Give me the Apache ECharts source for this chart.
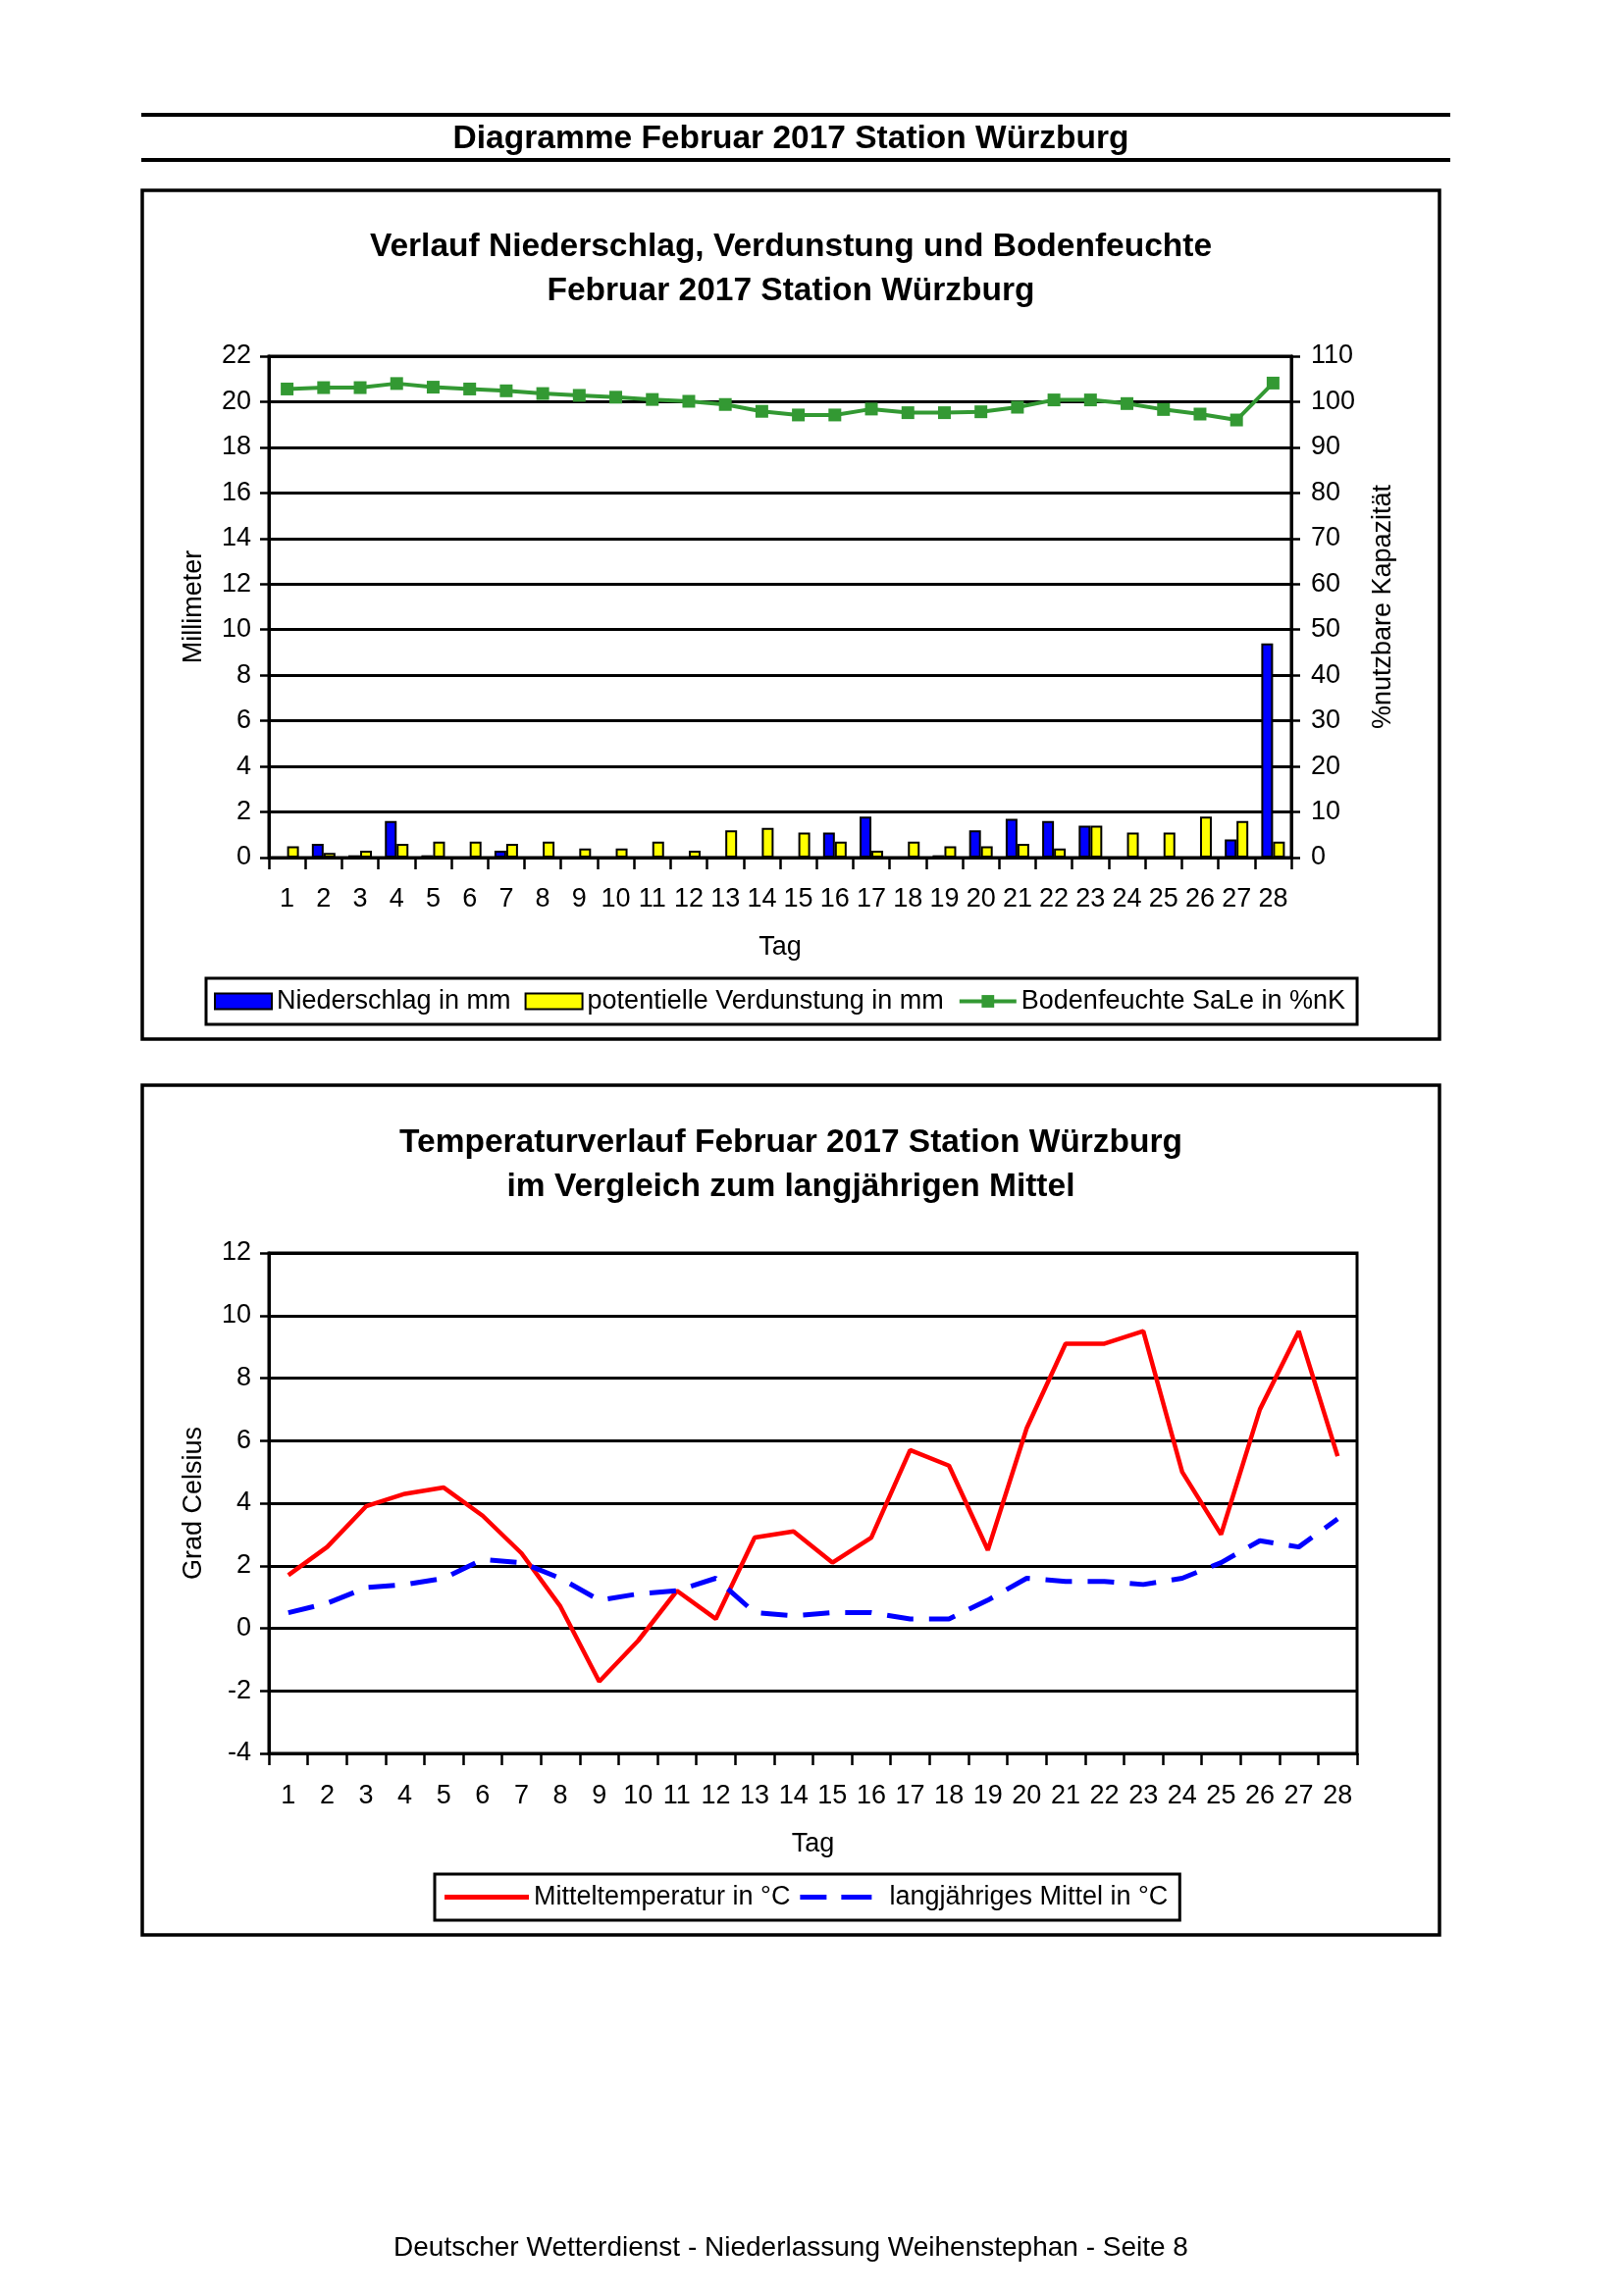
<!DOCTYPE html>
<html><head><meta charset="utf-8">
<script src="https://cdn.jsdelivr.net/npm/echarts@6/dist/echarts.min.js"></script>
<style>html,body{margin:0;padding:0;background:#fff}#c{width:1653px;height:2340px}</style>
</head><body><div id="c"></div>
<script>
var days = ['1','2','3','4','5','6','7','8','9','10','11','12','13','14','15','16','17','18','19','20','21','22','23','24','25','26','27','28'];
var niederschlag = [0, 0.6, 0.1, 1.6, 0.1, 0, 0.3, 0, 0, 0, 0, 0, 0, 0, 0, 1.1, 1.8, 0, 0.1, 1.2, 1.7, 1.6, 1.4, 0, 0, 0, 0.8, 9.4];
var verdunstung = [0.5, 0.2, 0.3, 0.6, 0.7, 0.7, 0.6, 0.7, 0.4, 0.4, 0.7, 0.3, 1.2, 1.3, 1.1, 0.7, 0.3, 0.7, 0.5, 0.5, 0.6, 0.4, 1.4, 1.1, 1.1, 1.8, 1.6, 0.7];
var bodenfeuchte = [102.8, 103.1, 103.1, 104.0, 103.2, 102.8, 102.4, 101.8, 101.4, 101.0, 100.5, 100.1, 99.4, 97.9, 97.1, 97.1, 98.4, 97.6, 97.6, 97.8, 98.8, 100.4, 100.4, 99.6, 98.3, 97.3, 96.0, 104.1];
var mitteltemp = [1.7, 2.6, 3.9, 4.3, 4.5, 3.6, 2.4, 0.7, -1.7, -0.4, 1.2, 0.3, 2.9, 3.1, 2.1, 2.9, 5.7, 5.2, 2.5, 6.4, 9.1, 9.1, 9.5, 5.0, 3.0, 7.0, 9.5, 5.5];
var langjaehrig = [0.5, 0.8, 1.3, 1.4, 1.6, 2.2, 2.1, 1.6, 0.9, 1.1, 1.2, 1.6, 0.5, 0.4, 0.5, 0.5, 0.3, 0.3, 0.9, 1.6, 1.5, 1.5, 1.4, 1.6, 2.1, 2.8, 2.6, 3.5];

var FF = "'Liberation Sans', Arial, sans-serif";
var chart = echarts.init(document.getElementById('c'), null, {renderer: 'canvas'});
function txt(t, x, y, size, bold) {
  return {type: 'text', x: x, y: y, style: {text: t, fill: '#000', font: (bold ? 'bold ' : '') + size + 'px ' + FF, textAlign: 'center', textVerticalAlign: 'middle'}};
}
var axisLbl = {color: '#000', fontSize: 27, fontFamily: FF};
var nameStyle = {color: '#000', fontSize: 27, fontFamily: FF};
var solidIcon = 'path://M0,0L86,0L86,5L0,5Z';
var dashIcon = 'path://M0,0L27,0L27,5L0,5ZM42,0L73,0L73,5L42,5ZM86,0L86,5L86,5Z';
var option = {
  animation: false,
  backgroundColor: '#fff',
  graphic: [
    {type: 'line', shape: {x1: 144, y1: 117, x2: 1478, y2: 117}, style: {stroke: '#000', lineWidth: 4}},
    {type: 'line', shape: {x1: 144, y1: 163, x2: 1478, y2: 163}, style: {stroke: '#000', lineWidth: 4}},
    {type: 'rect', shape: {x: 145, y: 194, width: 1322, height: 865}, style: {stroke: '#000', lineWidth: 3.5, fill: null}},
    {type: 'rect', shape: {x: 145, y: 1106, width: 1322, height: 866}, style: {stroke: '#000', lineWidth: 3.5, fill: null}},
    txt('Diagramme Februar 2017 Station Würzburg', 806, 142, 33.5, true),
    txt('Verlauf Niederschlag, Verdunstung und Bodenfeuchte', 806, 252, 33.5, true),
    txt('Februar 2017 Station Würzburg', 806, 297, 33.5, true),
    txt('Temperaturverlauf Februar 2017 Station Würzburg', 806, 1165, 33.5, true),
    txt('im Vergleich zum langjährigen Mittel', 806, 1210, 33.5, true),
    txt('Deutscher Wetterdienst - Niederlassung Weihenstephan - Seite 8', 806, 2291, 28, false)
  ],
  grid: [
    {left: 274, top: 363, width: 1042, height: 511, show: true, borderColor: '#000', borderWidth: 3},
    {left: 274, top: 1277, width: 1109, height: 510, show: true, borderColor: '#000', borderWidth: 3}
  ],
  legend: [
    {left: 210, top: 997, orient: 'horizontal', borderColor: '#000', borderWidth: 3, padding: [10, 12, 10, 8],
     itemWidth: 58, itemHeight: 16, itemGap: 14,
     lineStyle: {width: 4},
     textStyle: {color: '#000', fontSize: 27, fontFamily: FF},
     data: [{name: 'Niederschlag in mm', icon: 'rect'}, {name: 'potentielle Verdunstung in mm', icon: 'rect'}, {name: 'Bodenfeuchte SaLe in %nK'}]},
    {left: 443, top: 1910, orient: 'horizontal', borderColor: '#000', borderWidth: 3, padding: [10, 12, 10, 10],
     itemWidth: 86, itemHeight: 16, itemGap: 10,
     textStyle: {color: '#000', fontSize: 27, fontFamily: FF},
     data: [{name: 'Mitteltemperatur in °C', icon: solidIcon}, {name: 'langjähriges Mittel in °C', icon: dashIcon}]}
  ],
  xAxis: [
    {type: 'category', gridIndex: 0, data: days, boundaryGap: true,
     name: 'Tag', nameLocation: 'middle', nameGap: 78, nameTextStyle: nameStyle,
     axisLine: {onZero: false, lineStyle: {color: '#000', width: 3}},
     axisTick: {show: true, length: 12, lineStyle: {color: '#000', width: 2.5}},
     axisLabel: Object.assign({margin: 29, interval: 0}, axisLbl)},
    {type: 'category', gridIndex: 1, data: days, boundaryGap: true,
     name: 'Tag', nameLocation: 'middle', nameGap: 79, nameTextStyle: nameStyle,
     axisLine: {onZero: false, lineStyle: {color: '#000', width: 3}},
     axisTick: {show: true, length: 12, lineStyle: {color: '#000', width: 2.5}},
     axisLabel: Object.assign({margin: 30, interval: 0}, axisLbl)}
  ],
  yAxis: [
    {type: 'value', gridIndex: 0, min: 0, max: 22, interval: 2, position: 'left',
     name: 'Millimeter', nameLocation: 'middle', nameGap: 63, nameRotate: 90, nameTextStyle: nameStyle,
     axisLine: {show: true, lineStyle: {color: '#000', width: 3}},
     axisTick: {show: true, length: 9, lineStyle: {color: '#000', width: 2.5}},
     axisLabel: Object.assign({margin: 18}, axisLbl),
     splitLine: {show: true, lineStyle: {color: '#000', width: 3}}},
    {type: 'value', gridIndex: 0, min: 0, max: 110, interval: 10, position: 'right',
     name: '%nutzbare Kapazität', nameLocation: 'middle', nameGap: 80, nameRotate: 90, nameTextStyle: nameStyle,
     axisLine: {show: true, lineStyle: {color: '#000', width: 3}},
     axisTick: {show: true, length: 9, lineStyle: {color: '#000', width: 2.5}},
     axisLabel: Object.assign({margin: 20}, axisLbl),
     splitLine: {show: false}},
    {type: 'value', gridIndex: 1, min: -4, max: 12, interval: 2, position: 'left',
     name: 'Grad Celsius', nameLocation: 'middle', nameGap: 63, nameRotate: 90, nameTextStyle: nameStyle,
     axisLine: {show: true, lineStyle: {color: '#000', width: 3}},
     axisTick: {show: true, length: 9, lineStyle: {color: '#000', width: 2.5}},
     axisLabel: Object.assign({margin: 18}, axisLbl),
     splitLine: {show: true, lineStyle: {color: '#000', width: 3}}}
  ],
  series: [
    {name: 'Niederschlag in mm', type: 'bar', xAxisIndex: 0, yAxisIndex: 0, data: niederschlag,
     barWidth: 12, barGap: '0%', itemStyle: {color: '#0000ff', borderColor: '#000', borderWidth: 2}},
    {name: 'potentielle Verdunstung in mm', type: 'bar', xAxisIndex: 0, yAxisIndex: 0, data: verdunstung,
     barWidth: 12, barGap: '0%', itemStyle: {color: '#ffff00', borderColor: '#000', borderWidth: 2}},
    {name: 'Bodenfeuchte SaLe in %nK', type: 'line', xAxisIndex: 0, yAxisIndex: 1, data: bodenfeuchte,
     symbol: 'rect', symbolSize: 13, lineStyle: {color: '#339933', width: 4}, itemStyle: {color: '#339933'}},
    {name: 'Mitteltemperatur in °C', type: 'line', xAxisIndex: 1, yAxisIndex: 2, data: mitteltemp,
     symbol: 'none', lineStyle: {color: '#ff0000', width: 4.5}, itemStyle: {color: '#ff0000'}},
    {name: 'langjähriges Mittel in °C', type: 'line', xAxisIndex: 1, yAxisIndex: 2, data: langjaehrig,
     symbol: 'none', lineStyle: {color: '#0000ff', width: 5, type: [27, 16]}, itemStyle: {color: '#0000ff'}}
  ]
};
chart.setOption(option);
</script>
</body></html>
